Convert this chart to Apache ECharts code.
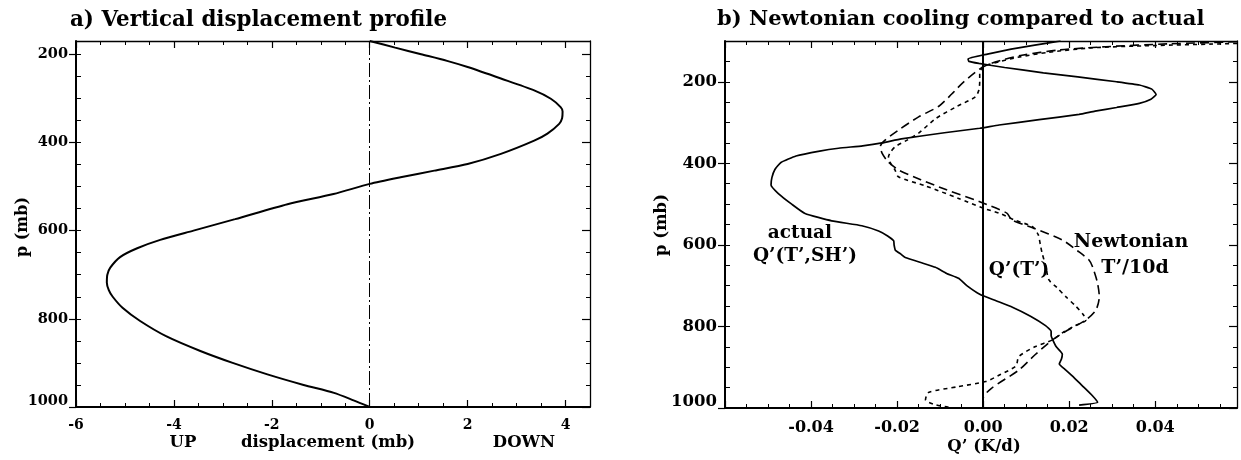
<!DOCTYPE html>
<html>
<head>
<meta charset="utf-8">
<script src="https://cdn.jsdelivr.net/npm/echarts@6/dist/echarts.min.js"></script>
<style>
  html, body { margin: 0; padding: 0; background: #fff; }
  #chart { width: 1241px; height: 460px; }
</style>
</head>
<body>
<div id="chart"></div>
<script>
// ---- a) vertical displacement (mb) against pressure (mb) ----
const dispPressure = [170, 185, 200, 215, 229, 255, 282, 301, 320, 330, 345, 358, 380, 396, 426, 449, 464, 479, 494,
  517, 540, 574, 600, 621, 640, 660, 684, 700, 718, 735, 750, 775, 805, 840, 873, 900, 926, 950, 968, 985, 1000];
const dispValue = [0, 0.52, 1.05, 1.58, 2.0, 2.68, 3.36, 3.7, 3.9, 3.94, 3.93, 3.87, 3.63, 3.36, 2.68, 2.0, 1.32, 0.63, 0,
  -0.74, -1.68, -2.75, -3.6, -4.28, -4.75, -5.1, -5.3, -5.36, -5.37, -5.33, -5.25, -5.05, -4.69, -4.15, -3.46, -2.8, -2.09, -1.35, -0.73, -0.33, 0];

// ---- b) heating anomaly Q' (K/d) against pressure (mb) ----
// actual Q'(T',SH')
const actualPressure = [100, 110, 120, 132, 144, 150, 155, 165, 178, 188, 200, 208, 218, 231, 243, 253, 263, 272, 280, 293,
  306, 314, 325, 340, 350, 357, 363, 370, 382, 398, 415, 435, 453, 474, 500, 523, 541, 553, 566, 578, 590, 600, 613,
  622, 631, 645, 655, 670, 682, 700, 721, 737, 753, 775, 798, 812, 822, 831, 850, 868, 880, 892, 905, 921, 945, 970, 986, 993];
const actualQ = [0.018, 0.012, 0.0065, 0.001, -0.0035, -0.0033, -0.001, 0.005, 0.014, 0.022, 0.031, 0.0363, 0.0392, 0.0402,
  0.039, 0.0363, 0.031, 0.026, 0.0223, 0.013, 0.0037, -0.0008, -0.009, -0.019, -0.0235, -0.028, -0.0336, -0.038, -0.0435,
  -0.047, -0.0484, -0.0491, -0.0493, -0.0476, -0.0445, -0.0414, -0.0352, -0.0282, -0.0243, -0.0222, -0.0208, -0.0207,
  -0.0204, -0.0192, -0.0181, -0.014, -0.0111, -0.0085, -0.0057, -0.0038, -0.0008, 0.003, 0.0068, 0.011, 0.0145, 0.0158,
  0.0158, 0.0161, 0.017, 0.0184, 0.0182, 0.0177, 0.019, 0.0207, 0.023, 0.0254, 0.0266, 0.0223];

// Newtonian cooling T'/10d
const newtonPressure = [102, 107, 114, 122, 135, 148, 163, 200, 230, 260, 286, 315, 343, 359, 375, 395, 416, 440, 465, 494,
  522, 539, 560, 588, 615, 637, 653, 690, 727, 760, 784, 810, 833, 870, 907, 951, 976, 1000];
const newtonQ = [0.059, 0.043, 0.0285, 0.0176, 0.009, 0.004, 0.0, -0.0045, -0.0073, -0.0103, -0.015, -0.0192, -0.0228,
  -0.0239, -0.0235, -0.0222, -0.0197, -0.0145, -0.0085, -0.0008, 0.0055, 0.0067, 0.012, 0.0184, 0.022, 0.0246, 0.0254,
  0.0265, 0.027, 0.0262, 0.0239, 0.0195, 0.0161, 0.012, 0.0083, 0.002, 0.0, 0.0];

// Q'(T')
const qtPressure = [106, 112, 117, 128, 140, 150, 163, 180, 200, 220, 237, 260, 290, 326, 345, 359, 372, 384, 400, 416, 433,
  455, 486, 510, 522, 540, 555, 575, 600, 620, 650, 686, 705, 727, 750, 770, 784, 800, 815, 833, 850, 874, 897, 918, 935,
  948, 962, 980, 992, 998];
const qtQ = [0.059, 0.037, 0.025, 0.015, 0.008, 0.004, 0.0, -0.0008, -0.0008, -0.001, -0.0018, -0.006, -0.011, -0.015,
  -0.018, -0.0204, -0.0215, -0.022, -0.0215, -0.0205, -0.0197, -0.0135, -0.0057, 0.0, 0.0037, 0.0075, 0.0114, 0.0128,
  0.0133, 0.0137, 0.0145, 0.0153, 0.0172, 0.0192, 0.0215, 0.0232, 0.0239, 0.021, 0.0185, 0.0161, 0.012, 0.0083, 0.0076,
  0.004, 0.0006, -0.006, -0.0127, -0.0134, -0.0111, -0.008];

// ---- tick labels ----
const pressureLabels = [200, 400, 600, 800, 1000];
const dispLabels = [-6, -4, -2, 0, 2, 4];
const qLabels = [-0.04, -0.02, 0, 0.02, 0.04];

// tick positions along each frame edge
function steps(from, to, step) {
  const out = [];
  for (let v = from; v <= to + step * 1e-6; v += step) out.push(Math.round(v / step) * step);
  return out;
}
const dispMajor = steps(-6, 4, 2), dispMinor = steps(-6, 4.5, 0.5);
const qMajor = steps(-0.06, 0.04, 0.02), qMinor = steps(-0.06, 0.055, 0.005);
const presMinorA = steps(200, 1000, 50);
const presMinorB = steps(100, 1000, 50);

const INK = '#000';
const SERIF = '"DejaVu Serif", "Liberation Serif", serif';
const tickFont = size => ({ color: INK, fontFamily: SERIF, fontWeight: 'bold', fontSize: size });

function xFrame(grid, min, max, majors, minors, labels, fmt, margin, size) {
  const base = { type: 'value', gridIndex: grid, min, max, splitLine: { show: false } };
  const bare = { axisLine: { show: false, onZero: false }, axisLabel: { show: false } };
  return [
    Object.assign({}, base, {
      position: 'bottom',
      axisLine: { show: true, onZero: false, lineStyle: { color: INK, width: 2 } },
      axisTick: { show: true, inside: true, length: 7, customValues: majors, lineStyle: { color: INK, width: 1.2 } },
      axisLabel: Object.assign({ show: true, customValues: labels, formatter: fmt, margin }, tickFont(size))
    }),
    Object.assign({}, base, bare, {
      position: 'bottom',
      axisTick: { show: true, inside: true, length: 4, customValues: minors, lineStyle: { color: INK, width: 1 } }
    }),
    Object.assign({}, base, {
      position: 'top',
      axisLine: { show: true, onZero: false, lineStyle: { color: INK, width: 1.3 } },
      axisLabel: { show: false },
      axisTick: { show: true, inside: true, length: 7, customValues: majors, lineStyle: { color: INK, width: 1.2 } }
    }),
    Object.assign({}, base, bare, {
      position: 'top',
      axisTick: { show: true, inside: true, length: 4, customValues: minors, lineStyle: { color: INK, width: 1 } }
    })
  ];
}

function yFrame(grid, min, max, majors, minors, labels, size) {
  const base = { type: 'value', gridIndex: grid, min, max, inverse: true, splitLine: { show: false } };
  const bare = { axisLine: { show: false, onZero: false }, axisLabel: { show: false } };
  return [
    Object.assign({}, base, {
      position: 'left',
      axisLine: { show: true, onZero: false, lineStyle: { color: INK, width: 2 } },
      axisTick: { show: true, inside: false, length: 7, customValues: majors, lineStyle: { color: INK, width: 1.2 } },
      axisLabel: Object.assign({
        show: true, customValues: labels, margin: 8,
        formatter: v => (v === 1000 ? '{lift|1000}' : String(v)),
        rich: { lift: Object.assign({ padding: [0, 0, 12, 0] }, tickFont(size)) }
      }, tickFont(size))
    }),
    Object.assign({}, base, bare, {
      position: 'left',
      axisTick: { show: true, inside: true, length: 5, customValues: minors, lineStyle: { color: INK, width: 1 } }
    }),
    Object.assign({}, base, {
      position: 'right',
      axisLine: { show: true, onZero: false, lineStyle: { color: INK, width: 1.3 } },
      axisLabel: { show: false },
      axisTick: { show: true, inside: true, length: 8, customValues: majors, lineStyle: { color: INK, width: 1.2 } }
    }),
    Object.assign({}, base, bare, {
      position: 'right',
      axisTick: { show: true, inside: true, length: 4, customValues: minors, lineStyle: { color: INK, width: 1 } }
    })
  ];
}

const pairs = (values, pressures) => pressures.map((p, i) => [values[i], p]);

function profile(name, xi, yi, values, pressures, style, extra) {
  return Object.assign({
    name, type: 'line', xAxisIndex: xi, yAxisIndex: yi,
    data: pairs(values, pressures),
    showSymbol: false, symbol: 'none', smooth: 0.25, clip: true, silent: true,
    lineStyle: Object.assign({ color: INK }, style),
    z: 3
  }, extra || {});
}

function txt(x, y, text, size, opts) {
  return Object.assign({
    type: 'text', x, y, silent: true,
    style: Object.assign({
      text, fill: INK, align: 'center', verticalAlign: 'middle',
      font: 'bold ' + size + 'px ' + SERIF
    }, (opts && opts.style) || {})
  }, (opts && opts.el) || {});
}

const chart = echarts.init(document.getElementById('chart'), null, { renderer: 'canvas' });

chart.setOption({
  backgroundColor: '#fff',
  animation: false,
  grid: [
    { left: 76, top: 41, width: 514, height: 366, outerBoundsMode: 'none' },
    { left: 725, top: 41, width: 512, height: 367, outerBoundsMode: 'none' }
  ],
  xAxis: [].concat(
    xFrame(0, -6, 4.5, dispMajor, dispMinor, dispLabels, v => String(v), 11, 14),
    xFrame(1, -0.06, 0.059, qMajor, qMinor, qLabels, v => v.toFixed(2), 12, 16)
  ),
  yAxis: [].concat(
    yFrame(0, 170, 1000, pressureLabels, presMinorA, pressureLabels, 14.5),
    yFrame(1, 100, 1000, pressureLabels, presMinorB, pressureLabels, 16.5)
  ),
  series: [
    profile('displacement', 0, 0, dispValue, dispPressure, { width: 2 }, {
      markLine: {
        symbol: 'none', silent: true, label: { show: false },
        lineStyle: { color: INK, width: 1, type: [14, 3, 2, 3] },
        data: [{ xAxis: 0 }]
      }
    }),
    profile('actual', 4, 4, actualQ, actualPressure, { width: 1.7 }, {
      smooth: 0.15,
      markLine: {
        symbol: 'none', silent: true, label: { show: false },
        lineStyle: { color: INK, width: 2, type: 'solid' },
        data: [{ xAxis: 0 }]
      }
    }),
    profile('Newtonian', 4, 4, newtonQ, newtonPressure, { width: 1.6, type: [9, 5] }),
    profile("Q'(T')", 4, 4, qtQ, qtPressure, { width: 1.6, type: [4, 4] })
  ],
  graphic: [
    txt(70, 20, 'a) Vertical displacement profile', 21.4, { style: { align: 'left' } }),
    txt(717, 20, 'b) Newtonian cooling compared to actual', 21, { style: { align: 'left' } }),
    txt(23, 227, 'p (mb)', 16, { el: { rotation: Math.PI / 2 } }),
    txt(662, 225, 'p (mb)', 16.5, { el: { rotation: Math.PI / 2 } }),
    txt(183, 443, 'UP', 16.5),
    txt(328, 443, 'displacement (mb)', 16.5),
    txt(524, 443, 'DOWN', 16.5),
    txt(984, 447, 'Q\u2019 (K/d)', 16.5),
    txt(800, 233, 'actual', 18.5),
    txt(805, 256, 'Q\u2019(T\u2019,SH\u2019)', 18.5),
    txt(1019, 270, 'Q\u2019(T\u2019)', 18.5),
    txt(1131, 242, 'Newtonian', 19),
    txt(1135, 268, 'T\u2019/10d', 19)
  ]
});
</script>
</body>
</html>
